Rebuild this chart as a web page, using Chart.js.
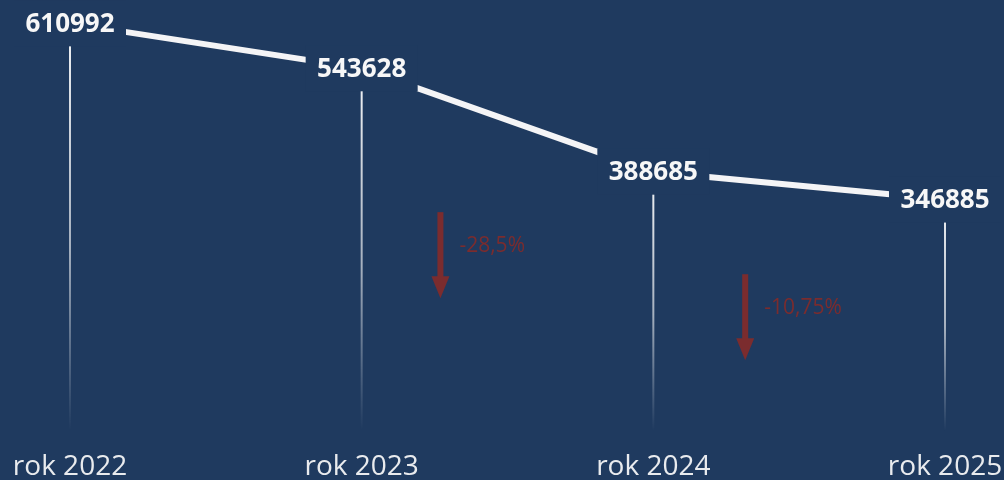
<!DOCTYPE html>
<html>
<head>
<meta charset="utf-8">
<script src="https://cdn.jsdelivr.net/npm/chart.js@4.4.1/dist/chart.umd.min.js"></script>
<style>
	html, body { margin: 0; padding: 0; background: #1f3a5f; }
	#wrap { width: 1004px; height: 480px; }
</style>
</head>
<body>
<div id="wrap"><canvas id="chart"></canvas></div>
<script>
var years = ['rok 2022', 'rok 2023', 'rok 2024', 'rok 2025'];
var students = [610992, 543628, 388685, 346885];
var changeLabels = ['-28,5%', '-10,75%'];

var BG = '#1f3a5f';
var RED = '#7b2c2e';

// drop lines from each point down to zero, fading out
var dropLines = {
	id: 'dropLines',
	beforeDatasetsDraw: function(chart){
		var ctx = chart.ctx;
		var zero = chart.scales.y.getPixelForValue(0);
		chart.getDatasetMeta(0).data.forEach(function(pt){
			var g = ctx.createLinearGradient(0, pt.y, 0, zero);
			g.addColorStop(0, 'rgba(255,255,255,0.95)');
			g.addColorStop(0.55, 'rgba(255,255,255,0.6)');
			g.addColorStop(1, 'rgba(255,255,255,0)');
			ctx.save();
			ctx.strokeStyle = g;
			ctx.lineWidth = 2;
			ctx.beginPath();
			ctx.moveTo(pt.x, pt.y);
			ctx.lineTo(pt.x, zero);
			ctx.stroke();
			ctx.restore();
		});
	}
};

// value labels on a box that hides the line under them
var valueLabels = {
	id: 'valueLabels',
	afterDatasetsDraw: function(chart){
		var ctx = chart.ctx;
		var data = chart.data.datasets[0].data;
		chart.getDatasetMeta(0).data.forEach(function(pt, i){
			ctx.save();
			ctx.fillStyle = BG;
			ctx.fillRect(pt.x - 56, pt.y - 23, 112, 46);
			ctx.fillStyle = '#f7f7f7';
			ctx.font = 'bold 26px "Open Sans"';
			ctx.textAlign = 'center';
			ctx.textBaseline = 'middle';
			ctx.fillText(String(data[i]), pt.x, pt.y + 1);
			ctx.restore();
		});
	}
};

// red arrows with percentage change
var changeArrows = {
	id: 'changeArrows',
	afterDatasetsDraw: function(chart, args, opts){
		var ctx = chart.ctx;
		var xs = chart.scales.x, ys = chart.scales.y;
		opts.items.forEach(function(a){
			var x = xs.getPixelForValue(a.at);
			var top = ys.getPixelForValue(a.from);
			var bot = ys.getPixelForValue(a.to);
			ctx.save();
			ctx.fillStyle = RED;
			ctx.fillRect(x - 3, top, 6, bot - top - 20);
			ctx.beginPath();
			ctx.moveTo(x - 9, bot - 22);
			ctx.lineTo(x + 9, bot - 22);
			ctx.lineTo(x, bot);
			ctx.closePath();
			ctx.fill();
			ctx.font = '21px "Open Sans"';
			ctx.textAlign = 'left';
			ctx.textBaseline = 'middle';
			ctx.fillText(a.text, x + 19, top + 34);
			ctx.restore();
		});
	}
};

var ctx = document.getElementById('chart').getContext('2d');
Chart.defaults.font.family = '"Open Sans", sans-serif';

window.chart = new Chart(ctx, {
	type: 'line',
	data: {
		labels: years,
		datasets: [{
			data: students,
			borderColor: '#f4f4f6',
			borderWidth: 6,
			pointRadius: 0,
			tension: 0,
			fill: false
		}]
	},
	options: {
		responsive: true,
		maintainAspectRatio: false,
		animation: false,
		layout: {
			padding: { left: 70, right: 59, top: 4, bottom: 0 }
		},
		plugins: {
			legend: { display: false },
			tooltip: { enabled: false },
			changeArrows: {
				items: [
					{ at: 1.27, from: 328000, to: 199000, text: changeLabels[0] },
					{ at: 2.315, from: 235000, to: 106000, text: changeLabels[1] }
				]
			}
		},
		scales: {
			x: {
				offset: false,
				grid: { display: false, drawTicks: false },
				border: { display: false },
				ticks: {
					color: '#e9ebee',
					font: { size: 28 },
					padding: 19,
					maxRotation: 0,
					autoSkip: false
				},
				afterFit: function(scale){
					// keep the plot edges on the layout padding
					scale.paddingLeft = 0;
					scale.paddingRight = 0;
					scale.height = 49;
				}
			},
			y: {
				display: false,
				min: 0,
				max: 640000
			}
		}
	},
	plugins: [dropLines, valueLabels, changeArrows]
});
</script>
</body>
</html>
